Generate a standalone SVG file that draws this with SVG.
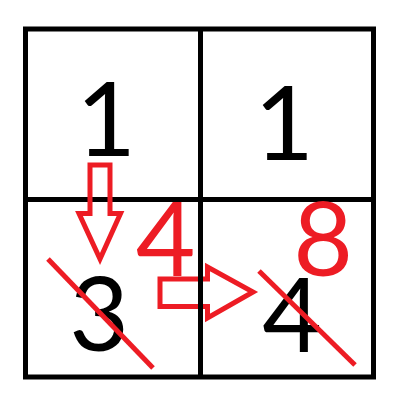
<svg xmlns="http://www.w3.org/2000/svg" width="400" height="400" viewBox="0 0 400 400">
<style>
.grid{stroke:#000;stroke-width:5;fill:none}
.red{stroke:#ED1C24;stroke-width:5;fill:none;stroke-linejoin:miter}
.num{font-family:Lato,"DejaVu Sans",sans-serif;font-size:103px;text-anchor:middle}
.k{fill:#000}
.r{fill:#ED1C24}
</style>
<rect width="400" height="400" fill="#fff"/>
<g id="grid-h">
<rect class="grid" x="25.5" y="29" width="348" height="348"/>
<line class="grid" x1="25.5" y1="199.5" x2="373.5" y2="199.5"/>
</g>
<g id="cell-tl"><text class="num k" x="106" y="156">1</text></g>
<g id="cell-tr"><text class="num k" x="284" y="160">1</text></g>
<g id="cell-bl"><text class="num k" x="99" y="351">3</text></g>
<g id="cell-br"><text class="num k" x="292" y="352">4</text></g>
<g id="label-4"><text class="num r" x="165.5" y="276">4</text></g>
<g id="label-8"><text class="num r" x="323" y="276">8</text></g>
<g id="connectors">
<polygon class="red" points="90,165 110,165 110,213.5 120.5,213.5 100,259 79,213.5 90,213.5"/>
<polygon class="red" points="160,279 207.5,279 207.5,267 253,292 207.5,318 207.5,306.5 160,306.5"/>
<line class="red" x1="48" y1="259" x2="153" y2="368"/>
<line class="red" x1="259" y1="271" x2="355" y2="365"/>
</g>
<g id="grid-v">
<line class="grid" x1="200.5" y1="29" x2="200.5" y2="377"/>
</g>
</svg>
